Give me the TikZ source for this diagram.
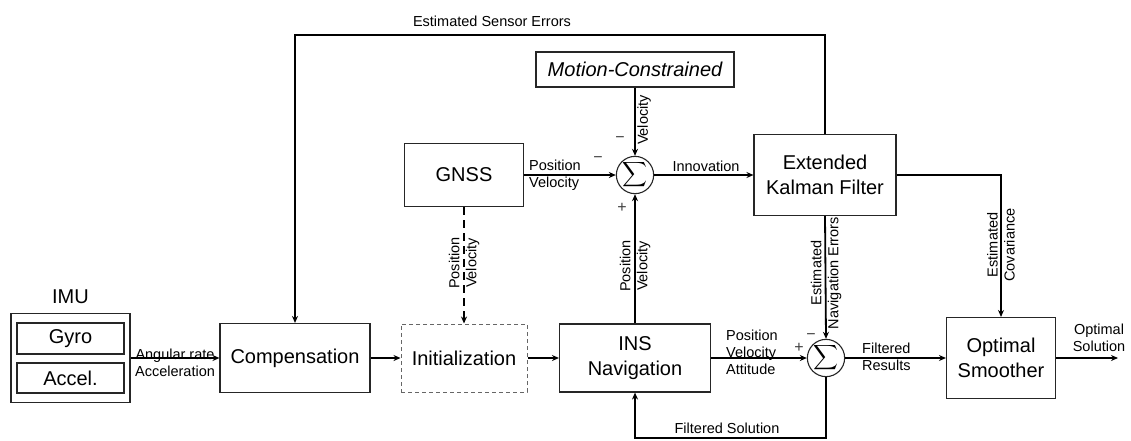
\documentclass[tikz,border=0pt]{standalone}
\usepackage{amsmath}
\usepackage{fontspec}
\setmainfont{Liberation Sans}
\usetikzlibrary{arrows.meta}
\begin{document}
\begin{tikzpicture}[x=1pt,y=-1pt,
  box/.style={draw=black!85, line width=1.1pt, inner sep=0pt, align=center,
              font=\fontsize{20}{25}\selectfont},
  sumnode/.style={draw=black!85, line width=1.1pt, circle, minimum size=37pt, inner sep=0pt},
  lbl/.style={font=\fontsize{14.5}{17}\selectfont, inner sep=0pt},
  sgn/.style={font=\fontsize{16}{16}\selectfont, inner sep=0pt, text=black!75},
  arr/.style={line width=1.8pt, -{Stealth[length=7pt,width=6pt]}},
  ln/.style={line width=1.8pt}]
\useasboundingbox (0,0) rectangle (1131,440);

% blocks
\node[box, minimum width=119pt, minimum height=89pt] (imu) at (70.5,358) {};
\node[box, minimum width=107pt, minimum height=31pt] (gyro) at (70.5,338.5) {Gyro};
\node[box, minimum width=107pt, minimum height=30pt] (accel) at (70.5,378) {Accel.};
\node[font=\fontsize{20}{24}\selectfont, inner sep=0pt] (imulbl) at (70.5,297) {IMU};
\node[box, minimum width=150pt, minimum height=69pt] (comp) at (295,358) {Compensation};
\node[box, draw=black!60, line width=1pt, dash pattern=on 4pt off 3pt,
      minimum width=126pt, minimum height=68pt] (init) at (464,358) {Initialization};
\node[box, minimum width=151pt, minimum height=68pt] (ins) at (635,358) {INS\\Navigation};
\node[box, minimum width=119pt, minimum height=63pt] (gnss) at (464,175) {GNSS};
\node[box, minimum width=198pt, minimum height=35pt] (mc) at (635,69.5) {\itshape Motion-Constrained};
\node[box, minimum width=142pt, minimum height=81pt] (ekf) at (825,175) {Extended\\Kalman Filter};
\node[box, minimum width=109pt, minimum height=81pt] (os) at (1001,358) {Optimal\\Smoother};
\node[sumnode] (s1) at (635,175) {\fontsize{19}{19}\selectfont$\displaystyle\sum$};
\node[sumnode] (s2) at (826,358) {\fontsize{19}{19}\selectfont$\displaystyle\sum$};

% corner points of the routed lines
\coordinate (tr) at (825,35);
\coordinate (tl) at (295,35);
\coordinate (br) at (826,438);
\coordinate (bl) at (635,438);
\coordinate (out) at (1118,358);

% connectors
\draw[arr] (imu.east) -- (comp.west);
\draw[arr] (comp.east) -- (init.west);
\draw[arr] (init.east) -- (ins.west);
\draw[arr] (gnss.east) -- (s1.west);
\draw[arr] (mc.south) -- (s1.north);
\draw[arr] (ins.north) -- (s1.south);
\draw[arr] (s1.east) -- (ekf.west);
\draw[arr] (ekf.north) -- (tr) -- (tl) -- (comp.north);
\draw[arr] (ekf.east) -| (os.north);
\draw[arr] (ekf.south) -- (s2.north);
\draw[arr] (ins.east) -- (s2.west);
\draw[arr] (s2.east) -- (os.west);
\draw[arr] (s2.south) -- (br) -- (bl) -- (ins.south);
\draw[arr] (os.east) -- (out);
\draw[arr, dash pattern=on 8pt off 5pt] (gnss.south) -- (init.north);

% connector labels
\node[lbl, align=center] (l1) at (175,363) {Angular rate\\Acceleration};
\node[lbl] (l2) at (492,21) {Estimated Sensor Errors};
\node[lbl, align=left, anchor=west] (l3) at (529,175) {Position\\Velocity};
\node[lbl, rotate=90] (l4) at (644,120) {Velocity};
\node[lbl] (l5) at (706,166) {Innovation};
\node[lbl, align=center, rotate=90] (l6) at (635,266) {Position\\Velocity};
\node[lbl, align=center, rotate=90] (l7) at (464,263) {Position\\Velocity};
\node[lbl, align=center, rotate=90] (l8) at (826,273) {Estimated\\Navigation Errors};
\node[lbl, align=center, rotate=90] (l9) at (1001,245) {Estimated\\Covariance};
\node[lbl, align=left, anchor=west] (l10) at (726,352) {Position\\Velocity\\Attitude};
\node[lbl, align=left, anchor=west] (l11) at (862,357) {Filtered\\Results};
\node[lbl] (l12) at (727,428) {Filtered Solution};
\node[lbl, align=center] (l13) at (1099,338) {Optimal\\Solution};

% signs at the summing junctions
\node[sgn] (m1) at (598,160) {−};
\node[sgn] (m2) at (620,140) {−};
\node[sgn] (p1) at (622,208) {+};
\node[sgn] (m3) at (811,337) {−};
\node[sgn] (p2) at (799,348) {+};
\end{tikzpicture}
\end{document}
